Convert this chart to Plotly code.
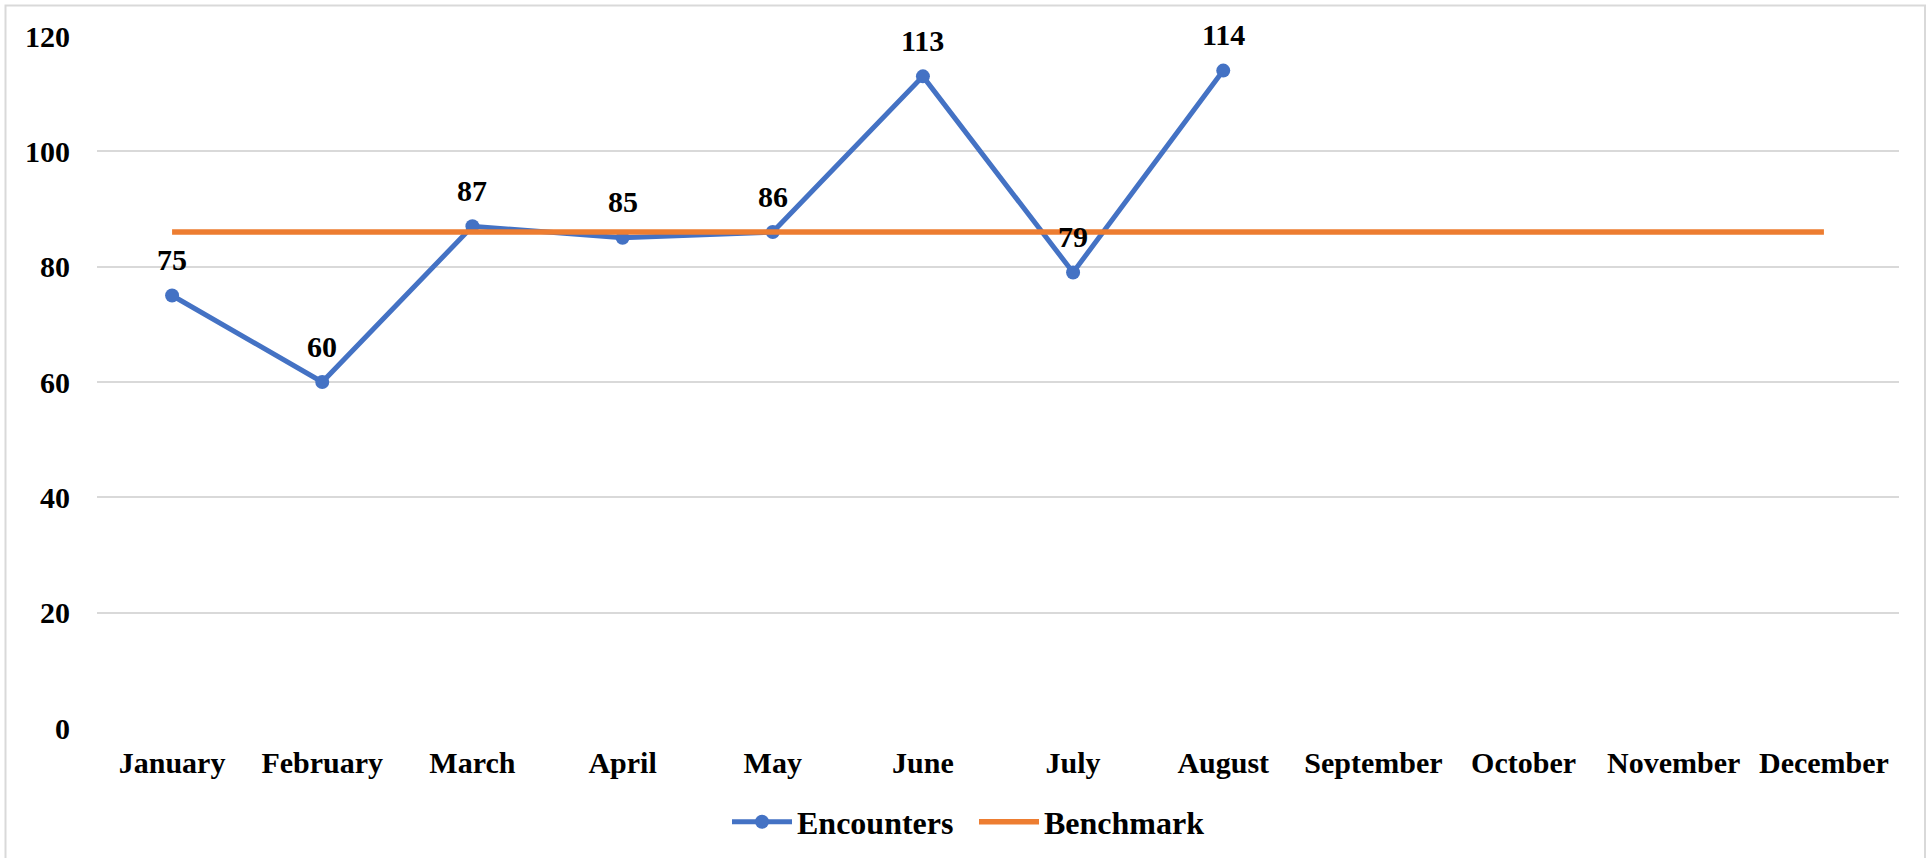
import plotly.graph_objects as go

months = ["January", "February", "March", "April", "May", "June", "July",
          "August", "September", "October", "November", "December"]
encounters = [75, 60, 87, 85, 86, 113, 79, 114, None, None, None, None]
benchmark = [86] * 12
y_ticks = [0, 20, 40, 60, 80, 100, 120]

BLUE = "#4472C4"
ORANGE = "#ED7D31"
SERIF = "Liberation Serif, Times New Roman, serif"
FONT = dict(family=SERIF, size=30, color="#000000", weight="bold")
LEG_FONT = dict(family=SERIF, size=32, color="#000000", weight="bold")

W, H = 1927, 858
L, R, T, B = 97, 28, 36, 130

fig = go.Figure()
fig.add_trace(go.Scatter(
    x=months, y=encounters, name="Encounters", mode="lines+markers",
    line=dict(color=BLUE, width=5), marker=dict(size=14, color=BLUE),
    cliponaxis=False,
))
fig.add_trace(go.Scatter(
    x=months, y=benchmark, name="Benchmark", mode="lines",
    line=dict(color=ORANGE, width=5.5),
))

for m, v in zip(months, encounters):
    if v is None:
        continue
    fig.add_annotation(x=m, y=v, text=str(v), showarrow=False, yshift=36,
                       yanchor="middle", font=FONT)

pw = W - L - R
ph = H - T - B
# chart border (light gray frame around chart area, open at the bottom edge)
fig.add_shape(type="rect", xref="paper", yref="paper",
              x0=(5.5 - L) / pw, x1=(1925 - L) / pw,
              y0=(T + ph - 870) / ph, y1=(T + ph - 5.5) / ph,
              line=dict(color="#D9D9D9", width=2), layer="below")

fig.update_layout(
    width=W, height=H,
    margin=dict(l=L, r=R, t=T, b=B, autoexpand=False),
    paper_bgcolor="white", plot_bgcolor="white",
    font=FONT,
    showlegend=True,
    legend=dict(orientation="h", x=727 / W, xref="container", xanchor="left",
                y=(H - 822) / H, yref="container", yanchor="middle",
                font=LEG_FONT, itemwidth=60, entrywidth=172,
                entrywidthmode="pixels", tracegroupgap=0),
    xaxis=dict(range=[-0.5, len(months) - 0.5], showgrid=False, showline=False,
               zeroline=False, ticks="", tickfont=FONT, ticklabelstandoff=14,
               automargin=False),
    yaxis=dict(range=[0, 120], tickvals=y_ticks, showgrid=True,
               gridcolor="#D9D9D9", gridwidth=2, zeroline=False, showline=False,
               ticks="", tickfont=FONT, ticklabelstandoff=26, automargin=False),
)

fig.write_html(
    "out.html",
    config={"displayModeBar": False},
    post_script="document.body.style.margin='0';document.body.style.overflow='hidden';",
)
